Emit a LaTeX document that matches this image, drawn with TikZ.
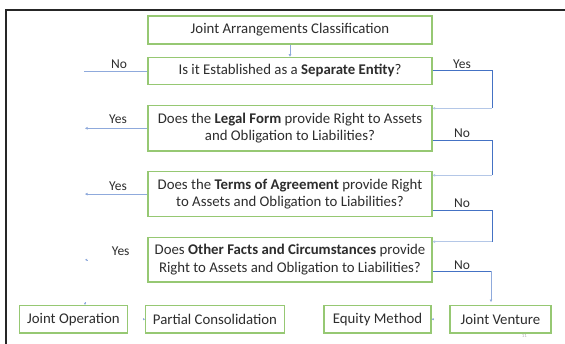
\documentclass[tikz,border=0pt]{standalone}
\usepackage{fontspec}
\setmainfont{Carlito}
\usetikzlibrary{arrows.meta,calc}
\definecolor{boxgreen}{RGB}{150,200,115}
\definecolor{darkblue}{RGB}{68,114,196}
\definecolor{lightblue}{RGB}{180,199,231}
\definecolor{midblue}{RGB}{143,170,220}
\definecolor{txt}{RGB}{45,45,45}
\begin{document}
\begin{tikzpicture}[x=1pt,y=-1pt,
  box/.style={draw=boxgreen,line width=1.2pt,inner sep=0pt,align=center,
    font=\fontsize{14.8}{17.5}\selectfont,text=txt},
  lab/.style={font=\fontsize{13.5}{15}\selectfont,text=txt},
  tip/.style={-{Triangle[length=2.5pt,width=2.5pt]}},
  darkline/.style={draw=darkblue,line width=0.9pt},
  lightline/.style={draw=lightblue,line width=0.9pt},
  leftline/.style={draw=midblue,line width=0.6pt},
  stub/.style={draw=midblue,line width=0.6pt,-{Triangle[length=2pt,width=2pt]}}]
\useasboundingbox (0,0) rectangle (565,343);
\fill[white] (0,0) rectangle (565,343);
% frame
\draw[line width=1.6pt,black!85] (6,345) -- (6,10) -- (567,10);
% nodes
\node[box,minimum width=284pt,minimum height=28pt] (t0) at (290,30) {Joint Arrangements Classification};
\node[box,minimum width=284pt,minimum height=27pt] (q1) at (290,70.8) {Is it Established as a \textbf{Separate Entity}?};
\node[box,minimum width=284pt,minimum height=45.3pt] (q2) at (290,128.3) {Does the \textbf{Legal Form} provide Right to Assets\\and Obligation to Liabilities?};
\node[box,minimum width=284pt,minimum height=44.8pt] (q3) at (290,194.1) {Does the \textbf{Terms of Agreement} provide Right\\to Assets and Obligation to Liabilities?};
\node[box,minimum width=284pt,minimum height=44.5pt] (q4) at (290,259.8) {Does \textbf{Other Facts and Circumstances} provide\\Right to Assets and Obligation to Liabilities?};
\node[box,minimum width=108pt,minimum height=27.5pt] (jo) at (73.4,319.2) {Joint Operation};
\node[box,minimum width=138.6pt,minimum height=27.5pt] (pc) at (215,319.2) {Partial Consolidation};
\node[box,minimum width=107pt,minimum height=27.5pt] (em) at (377.5,319.2) {Equity Method};
\node[box,minimum width=101pt,minimum height=27.5pt] (jv) at (500.5,319.2) {Joint Venture};
% labels
\node[lab] (l1) at (119,64) {No};
\node[lab] (l2) at (462,64) {Yes};
\node[lab] (l3) at (118,119) {Yes};
\node[lab] (l4) at (462,133.3) {No};
\node[lab] (l5) at (118,186) {Yes};
\node[lab] (l6) at (462,203.3) {No};
\node[lab] (l7) at (120.7,251) {Yes};
\node[lab] (l8) at (462,265) {No};
% coordinates
\coordinate (n1) at (84,70.8);
\coordinate (y2) at (85,128.3);
\coordinate (y3) at (85,194.1);
\coordinate (y4) at (85,259.8);
\coordinate (a1) at (492,70.8);
\coordinate (b1) at (492,108.3);
\coordinate (a2) at (492,140.7);
\coordinate (b2) at (492,175.3);
\coordinate (a3) at (492,210.7);
\coordinate (b3) at (492,241.7);
\coordinate (a4) at (491,271);
\coordinate (b4) at (491,302);
% connectors
\draw[leftline,tip] (t0) -- (q1);
\draw[leftline] (q1.west) -- (n1);
\draw[leftline,tip] (q2.west) -- (y2);
\draw[leftline,tip] (q3.west) -- (y3);
\draw[stub] ([xshift=2pt]y4) -- (y4);
\draw[darkline] (q1.east) -- (a1) -- (b1);
\draw[lightline,tip] (b1) -- (q2.east |- b1);
\draw[darkline] (q2.east |- a2) -- (a2) -- (b2);
\draw[lightline,tip] (b2) -- (q3.east |- b2);
\draw[darkline] (q3.east |- a3) -- (a3) -- (b3);
\draw[lightline,tip] (b3) -- (q4.east |- b3);
\draw[darkline] (q4.east |- a4) -- (a4);
\draw[leftline,tip] (a4) -- (b4);
\draw[stub] ($(jo.north -| y4)+(0,-2.5)$) -- (jo.north -| y4);
\draw[stub] ([xshift=-2pt]pc.west) -- (pc.west);
\draw[stub] ([xshift=2pt]em.east) -- (em.east);
\node[font=\fontsize{5}{5}\selectfont,text=black!30] (pg) at (524.3,336) {11};
\end{tikzpicture}
\end{document}
